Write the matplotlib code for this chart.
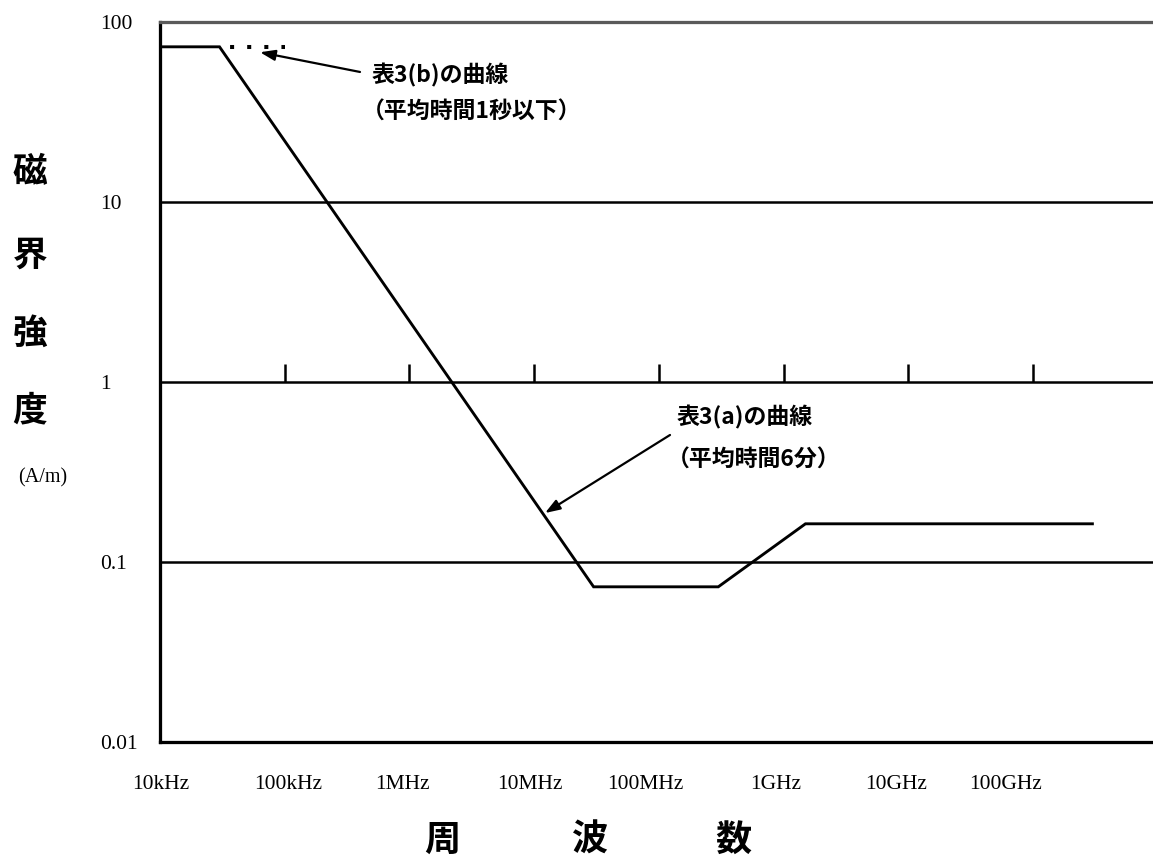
import matplotlib
matplotlib.use("Agg")
import matplotlib.pyplot as plt
import matplotlib.transforms as mtransforms

# 表3(a) curve (6 min average), magnetic field A/m vs frequency Hz
freq_a = [1e4, 3e4, 3e7, 3e8, 1.5e9, 3e11]
field_a = [72.8, 72.8, 0.0728, 0.0728, 0.163, 0.163]

# 表3(b) curve (1 s average or less), dotted extension
freq_b = [3e4, 1e5]
field_b = [72.8, 72.8]

decade_freqs = [1e4, 1e5, 1e6, 1e7, 1e8, 1e9, 1e10, 1e11]
decade_labels = ["10kHz", "100kHz", "1MHz", "10MHz", "100MHz", "1GHz", "10GHz", "100GHz"]
y_ticks = [0.01, 0.1, 1, 10, 100]
y_labels = ["0.01", "0.1", "1", "10", "100"]
grid_levels = [0.1, 1, 10]

CJK = ["Noto Sans CJK JP", "DejaVu Sans"]
SERIF = ["Liberation Serif", "DejaVu Serif"]
LW = 1.8

fig = plt.figure(figsize=(11.53, 8.66), dpi=100)
ax = fig.add_axes([160 / 1153, 1 - 742 / 866, 993 / 1153, 720 / 866])
ax.set_xscale("log")
ax.set_yscale("log")
ax.set_xlim(1e4, 10 ** (4 + 993 / 124.7))
ax.set_ylim(0.01, 100)

for lvl in grid_levels:
    ax.axhline(lvl, color="black", lw=LW, zorder=1)
# small decade marks standing on the 1 A/m line
ax.vlines(decade_freqs[1:], 1, 10 ** (18 / 180), color="black", lw=LW)

ax.plot(freq_a, field_a, color="black", lw=LW * 1.15, solid_joinstyle="miter", zorder=3)
ax.plot(freq_b, field_b, color="black", lw=2.9, linestyle=(1.5, (1, 3.25)),
        dash_capstyle="butt", zorder=3)

ax.spines["right"].set_visible(False)
ax.spines["top"].set_color("#5a5a5a")
ax.spines["top"].set_linewidth(LW * 1.3)
for s in ("left", "bottom"):
    ax.spines[s].set_color("black")
    ax.spines[s].set_linewidth(LW * 1.3)

ax.minorticks_off()
ax.set_xticks(decade_freqs, decade_labels)
ax.set_yticks(y_ticks, y_labels)
ax.tick_params(axis="both", length=0, labelsize=15.5)
ax.tick_params(axis="x", pad=24)
ax.tick_params(axis="y", pad=43)
for lab in ax.get_yticklabels():
    lab.set_ha("left")
    lab.set_family(SERIF)
x_shift = [1, 3, -7, -4, -14, -8, -12, -27]
for lab, dx in zip(ax.get_xticklabels(), x_shift):
    lab.set_family(SERIF)
    lab.set_transform(lab.get_transform() + mtransforms.ScaledTranslation(dx / 100, 0, fig.dpi_scale_trans))

# axis titles
for ch, y in zip("磁界強度", [172, 255, 333, 410]):
    fig.text(30 / 1153, 1 - y / 866, ch, family=CJK, fontsize=25, weight="bold", ha="center", va="center")
fig.text(43 / 1153, 1 - 478 / 866, "(A/m)", family=SERIF, fontsize=14.5, ha="center", va="center")
for ch, x in zip("周波数", [442, 590, 733]):
    fig.text(x / 1153, 1 - 840 / 866, ch, family=CJK, fontsize=26, weight="bold", ha="center", va="center")

# annotations
arrow = dict(arrowstyle="-|>,head_length=0.9,head_width=0.32", color="black", lw=1.6, shrinkA=0, shrinkB=0)
ax.annotate("", xy=(0.1007, 0.958), xytext=(0.2014, 0.9306), xycoords="axes fraction", arrowprops=arrow)
ax.annotate("", xy=(0.3877, 0.318), xytext=(0.5136, 0.4264), xycoords="axes fraction", arrowprops=arrow)
ax.text(0.2135, 0.926, "表3(b)の曲線", transform=ax.transAxes, family=CJK, fontsize=16.5, weight="bold", va="center")
ax.text(0.2035, 0.875, "（平均時間1秒以下）", transform=ax.transAxes, family=CJK, fontsize=16.5, weight="bold", va="center")
ax.text(0.5206, 0.451, "表3(a)の曲線", transform=ax.transAxes, family=CJK, fontsize=16.5, weight="bold", va="center")
ax.text(0.5106, 0.392, "（平均時間6分）", transform=ax.transAxes, family=CJK, fontsize=16.5, weight="bold", va="center")

fig.savefig("out.png", dpi=100, facecolor="white")
